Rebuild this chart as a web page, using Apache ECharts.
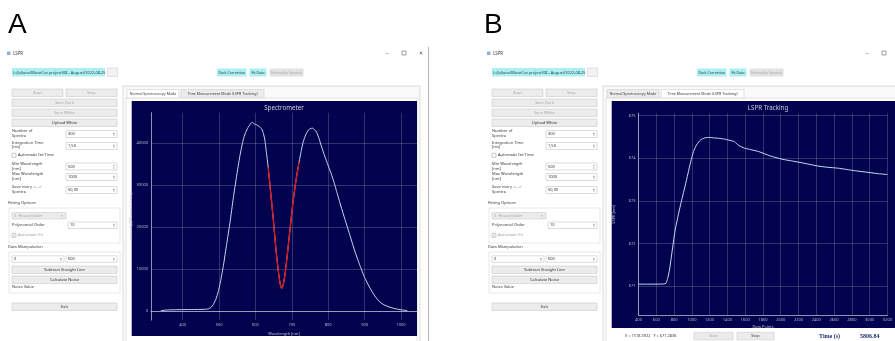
<!DOCTYPE html>
<html><head><meta charset="utf-8">
<script src="https://cdn.jsdelivr.net/npm/echarts@6/dist/echarts.min.js"></script>
<style>html,body{margin:0;padding:0;background:#fff}#c{width:895px;height:341px}</style>
</head><body><div id="c"></div>
<script>
// ---- data: panel A (spectrum) ----
const specX = [340,360,380,400,420,440,460,470,478,484,491,498,505,512,521,530,539,548,557,566,573,580,586,591,597,603,610,617,622,626,630,635,642,649,656,663,668,672,676,681,688,695,702,709,715,720,726,731,738,745,751,757,763,768,775,782,789,796,805,814,823,832,846,860,873,887,900,915,928,942,956,970,984,997,1010,1017];
const specY = [150,300,350,380,400,420,450,540,900,1560,2800,4690,7500,10900,16000,21100,26800,32000,36800,40600,42500,43700,44500,44900,44500,44300,43900,43350,42200,40600,37800,34200,28000,21900,15000,9380,6500,5460,6200,8600,13800,19500,25000,29700,33000,35500,38200,40200,41900,43000,43400,43500,43100,42560,41000,39000,37200,35500,33400,31200,28500,25800,21800,17950,14300,10900,8000,5460,3600,2180,1400,940,600,380,220,150];
const fitX = [635,642,649,656,663,668,672,676,681,688,695,702,709,715,720];
const fitY = [34200,28000,21900,15000,9380,6500,5460,6200,8600,13800,19500,25000,29700,33000,35500];
const specXTicks = [400,500,600,700,800,900,1000];
const specYTicks = [0,10000,20000,30000,40000];
// ---- data: panel B (LSPR tracking) ----
const trackX = [400,500,600,680,710,717,730,748,765,780,796,812,836,860,890,923,955,987,1019,1051,1075,1098,1146,1200,1242,1300,1369,1430,1480,1505,1528,1560,1591,1650,1750,1877,2015,2120,2227,2320,2418,2530,2641,2740,2832,2950,3100,3200];
const trackY = [671.05,671.05,671.05,671.055,671.07,671.11,671.2,671.38,671.62,671.85,672.09,672.32,672.56,672.79,673.06,673.34,673.63,673.92,674.16,674.31,674.38,674.43,674.48,674.49,674.48,674.47,674.45,674.42,674.39,674.34,674.30,674.27,674.24,674.21,674.16,674.06,673.98,673.94,673.90,673.86,673.82,673.79,673.77,673.74,673.71,673.68,673.64,673.62];
const trackYTicks = [671,672,673,674,675];

const FONT = '"Noto Sans", "DejaVu Sans", sans-serif';
const G = [];
function rect(x,y,w,h,fill,stroke,z){
  G.push({type:'rect',silent:true,z:(z==null?1:z),shape:{x:x,y:y,width:w,height:h},
    style:{fill:fill||'none',stroke:stroke||null,lineWidth:stroke?0.6:0}});
}
function line(x1,y1,x2,y2,color,w,z){
  G.push({type:'line',silent:true,z:(z==null?2:z),shape:{x1:x1,y1:y1,x2:x2,y2:y2},style:{stroke:color,lineWidth:w||0.7}});
}
function txt(x,y,t,o){
  o=o||{};
  G.push({type:'text',silent:true,z:12,x:x,y:y,style:{text:t,fill:o.fill||'#3a3a3a',fontSize:o.size||4.0,
    fontFamily:o.family||FONT,fontWeight:o.weight||'normal',align:o.align||'left',verticalAlign:'middle',lineHeight:o.lh||5}});
}
function btn(x,y,w,h,t,enabled,fill,size){
  rect(x,y,w,h,fill||'#ececec',fill?null:'#c9c9c9',3);
  txt(x+w/2,y+h/2+0.2,t,{align:'center',fill:enabled?'#333':'#a8a8a8',size:size});
}
function spin(x,y,w,h,t,enabled){
  rect(x,y,w,h,'#ffffff','#c4c4c4',3);
  txt(x+2,y+h/2,t,{fill:enabled===false?'#a0a0a0':'#333'});
  txt(x+w-3,y+h/2-1.2,'\u25B4',{size:2.8,align:'center',fill:'#777'});
  txt(x+w-3,y+h/2+1.3,'\u25BE',{size:2.8,align:'center',fill:'#777'});
}
function check(x,y,t,checked){
  rect(x,y-2,4,4,'#fff','#a8a8a8',3);
  if(checked) txt(x+2,y+0.2,'\u2713',{size:4,align:'center',fill:'#999'});
  txt(x+6,y,t,{fill:checked?'#a0a0a0':'#333'});
}
function win(dx, mode){
  // title bar
  rect(7+dx,51.5,3.5,3.5,'#8ab0d8',null,3);
  txt(13+dx,53.5,'LSPR',{size:4.4});
  txt(387+dx,53,'\u2013',{size:6,align:'center',fill:'#555'});
  rect(402+dx,51,4,4,'none','#666',3);
  if(dx===0){ txt(421,53,'\u2715',{size:5.5,align:'center',fill:'#555'}); }
  // path + top buttons
  rect(12+dx,68,93,8.5,'#aaf0f2',null,3);
  txt(13+dx,72.4,'L:/Juliana/MuseCov project/08 - August/2022-08-25',{size:3.9});
  rect(107.5+dx,68,10,8.5,'#f2f2f2','#cfcfcf',3);
  btn(217+dx,68.5,29.5,8,'Dark Correction',true,'#aaf0f2',3.6);
  btn(249.5+dx,68.5,17,8,'Fit Data',true,'#aaf0f2',3.6);
  btn(269.5+dx,68.5,34,8,'Normalize Spectra',false,'#e2e2e2',3.6);
  // left panel
  btn(12+dx,89,51,7.5,'Start',false);
  btn(66+dx,89,51,7.5,'Stop',false);
  btn(12+dx,99,105,7.5,'Save Dark',false);
  btn(12+dx,109,105,7.5,'Save White',false);
  btn(12+dx,119,105,7.5,'Upload White',true);
  txt(12+dx,133.3,'Number of\nSpectra',{lh:4.4});
  spin(66+dx,130.5,51,7,'300');
  txt(12+dx,145,'Integration Time\n[ms]',{lh:4.4});
  spin(66+dx,142.5,51,7,'1,50');
  check(12+dx,155.3,'Automatic Int Time',false);
  txt(12+dx,166.5,'Min Wavelength\n[nm]',{lh:4.4});
  spin(66+dx,163,51,7,'500');
  txt(12+dx,176.5,'Max Wavelength\n[nm]',{lh:4.4});
  spin(66+dx,173.5,51,7,'1000');
  txt(12+dx,189.5,'Save every <....>\nSpectra',{lh:4.4});
  spin(66+dx,186.5,51,7,'50,00');
  txt(8+dx,203,'Fitting Options');
  rect(9+dx,208,111,35,'none','#dadada',2);
  rect(12+dx,212.5,54,6.5,'#ececec','#cfcfcf',3);
  txt(14+dx,215.8,'0. Householder',{fill:'#a8a8a8'});
  txt(62+dx,215.8,'\u25BE',{size:3.5,align:'center',fill:'#aaa'});
  txt(12+dx,225.3,'Polynomial Order');
  spin(68+dx,222,49,6.5,'10');
  check(12+dx,235.3,'Automatic Fit',true);
  txt(8+dx,247.3,'Data Manipulation');
  rect(9+dx,252,111,41,'none','#dadada',2);
  spin(12+dx,255.8,52,6.5,'0');
  spin(66+dx,255.8,51,6.5,'600');
  btn(12+dx,266,105,7.5,'Subtract Straight Line',true);
  btn(12+dx,276,105,7.5,'Calculate Noise',true);
  txt(12+dx,287.3,'Noise Value');
  btn(12+dx,303,105,7.5,'Exit',true);
  // tab widget
  rect(123+dx,86,297,260,'#fafafa','#c8c8c8',0);
  rect(126+dx,98,291,245,'#ffffff','#d4d4d4',0);
  const selA = mode==='A';
  rect(127+dx,89.5,52,8.5,selA?'#ffffff':'#ececec','#cfcfcf',1);
  txt(153+dx,94,'Normal Spectroscopy Mode',{size:3.6,align:'center'});
  rect(181+dx,89.5,83,8.5,selA?'#ececec':'#ffffff','#cfcfcf',1);
  txt(222.5+dx,94,'Time Measurement Mode (LSPR Tracking)',{size:3.6,align:'center'});
  // navy plot background
  rect(131.7+dx,101,selA?285.3:300,selA?235:227,'#02024e',null,1);
}
win(0,'A');
win(480,'B');
// window A right border
line(428.5,47,428.5,341,'#b4b4b4',1,4);
// panel letters
txt(8,25.5,'A',{size:28,family:'"Liberation Sans", Arial, sans-serif',fill:'#000',lh:30});
txt(484,25.5,'B',{size:28,family:'"Liberation Sans", Arial, sans-serif',fill:'#000',lh:30});
// plot titles / labels
txt(284,107.8,'Spectrometer',{size:6.2,align:'center',fill:'#d0d0e0'});
txt(768,107.8,'LSPR Tracking',{size:6.2,align:'center',fill:'#d0d0e0'});
txt(763,326.8,'Data Points',{size:3.9,align:'center',fill:'#c0c0d0'});
// B bottom row
txt(625,336,'X = 1518.3922   Y = 671.2836',{size:3.9});
btn(694,332.3,39,7.5,'Start',false);
btn(737,332.3,37,7.5,'Stop',true);
txt(819,336,'Time (s)',{size:6,weight:'bold',fill:'#1d2b6b',family:'"Liberation Serif", serif'});
txt(860,336,'5806.84',{size:6,weight:'bold',fill:'#1d2b6b',family:'"Liberation Serif", serif'});

const axCol = '#b6b6c8';
const gridCol = 'rgba(255,255,255,0.24)';
const plain = v => String(v);
const lbl = {fontSize:4.0,color:axCol,margin:3,fontFamily:FONT,formatter:plain};
function zip(a,b){return a.map((v,i)=>[v,b[i]]);}

const option = {
  animation:false,
  backgroundColor:'#ffffff',
  graphic:{elements:G},
  grid:[
    {left:151,top:112.7,width:266,height:209.6,z:4},
    {left:638.5,top:113.3,width:293.4,height:201.7,z:4}
  ],
  xAxis:[
    {gridIndex:0,type:'value',min:312.9,max:1044,z:4,
     axisLine:{lineStyle:{color:axCol,width:0.8}},
     axisTick:{show:false,customValues:specXTicks},
     axisLabel:Object.assign({customValues:specXTicks},lbl),
     splitLine:{show:true,lineStyle:{color:gridCol,width:0.8}},
     name:'Wavelength [nm]',nameLocation:'middle',nameGap:11.5,
     nameTextStyle:{fontSize:3.9,color:'#c0c0d0',fontFamily:FONT}},
    {gridIndex:1,type:'value',min:400,max:3200,interval:200,z:4,
     axisLine:{lineStyle:{color:axCol,width:0.8}},
     axisTick:{show:false},
     axisLabel:lbl,
     splitLine:{show:true,lineStyle:{color:gridCol,width:0.8}}}
  ],
  yAxis:[
    {gridIndex:0,type:'value',min:-2110,max:47175,z:4,
     axisLine:{show:true,lineStyle:{color:axCol,width:0.8}},
     axisTick:{show:false,customValues:specYTicks},
     axisLabel:Object.assign({customValues:specYTicks},lbl),
     splitLine:{show:true,lineStyle:{color:gridCol,width:0.8}},
     name:'Intensity [Photon Counts]',nameLocation:'middle',nameGap:15.5,nameRotate:90,
     nameTextStyle:{fontSize:3.9,color:'#c0c0d0',fontFamily:FONT}},
    {gridIndex:1,type:'value',min:670.327,max:675.056,z:4,
     axisLine:{show:true,lineStyle:{color:axCol,width:0.8}},
     axisTick:{show:false,customValues:trackYTicks},
     axisLabel:Object.assign({customValues:trackYTicks},lbl),
     splitLine:{show:true,lineStyle:{color:gridCol,width:0.8}},
     name:'LSPR [nm]',nameLocation:'middle',nameGap:23,nameRotate:90,
     nameTextStyle:{fontSize:3.9,color:'#c0c0d0',fontFamily:FONT}}
  ],
  series:[
    {type:'line',xAxisIndex:0,yAxisIndex:0,z:6,data:zip(specX,specY),showSymbol:false,smooth:0.15,
     lineStyle:{color:'#c4dcf2',width:1},silent:true},
    {type:'line',xAxisIndex:0,yAxisIndex:0,z:7,data:zip(fitX,fitY),showSymbol:false,smooth:0.2,
     lineStyle:{color:'#d81818',width:1.4},silent:true},
    {type:'line',xAxisIndex:1,yAxisIndex:1,z:6,data:zip(trackX,trackY),showSymbol:false,smooth:0.2,
     lineStyle:{color:'#c4dcf2',width:1},silent:true}
  ]
};
const chart = echarts.init(document.getElementById('c'),null,{renderer:'canvas'});
chart.setOption(option);
</script></body></html>
